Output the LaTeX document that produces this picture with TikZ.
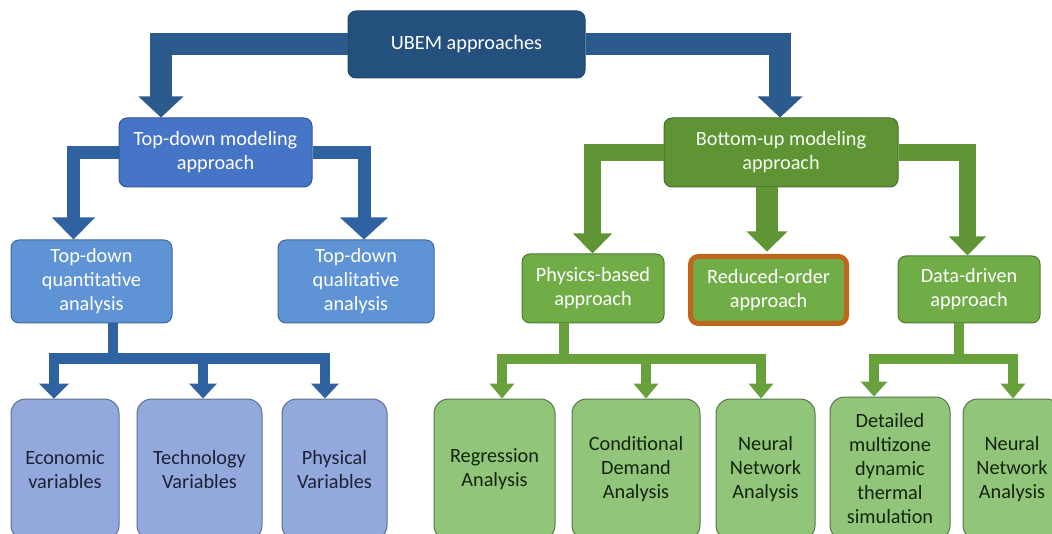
\documentclass[tikz,border=0pt]{standalone}
\usepackage{fontspec}
\setmainfont{Carlito}
\usetikzlibrary{calc}
\definecolor{ubemc}{HTML}{24507E}
\definecolor{arrA}{HTML}{2B5B8C}
\definecolor{tdmc}{HTML}{4674C6}
\definecolor{arrB}{HTML}{2F62A0}
\definecolor{tdqc}{HTML}{5E93D6}
\definecolor{varc}{HTML}{93A9DD}
\definecolor{bumc}{HTML}{5E9434}
\definecolor{arrC}{HTML}{5F9535}
\definecolor{grnc}{HTML}{70AD47}
\definecolor{arrD}{HTML}{68A03C}
\definecolor{lgrc}{HTML}{90C57A}
\definecolor{orgc}{HTML}{C0651C}
\definecolor{bluetxt}{HTML}{1B2233}
\definecolor{grntxt}{HTML}{16230E}
\newcommand\ahead[4]{\fill[#1] (#2) -- ++(-#3,-#4) -- ++(2*#3,0) -- cycle;}
\begin{document}
\begin{tikzpicture}[x=0.75pt,y=-0.75pt,
  font=\fontsize{15.2}{18}\selectfont,
  box/.style={rounded corners=6pt, line width=0.75pt, align=center, inner sep=0pt},
  lowbox/.style={box, rounded corners=11pt},
  sz/.style 2 args={minimum width=#1*0.75pt, minimum height=#2*0.75pt},
  band/.style={line join=miter, line cap=butt}]
\useasboundingbox (0,0) rectangle (1052,534);
\clip (0,0) rectangle (1052,534);
% nodes
\node[box, sz={237}{67}, fill=ubemc, draw=ubemc!85!black, text=white] (ubem) at (466.5,44.5) {UBEM approaches};
\node[box, sz={193}{69}, fill=tdmc, draw=tdmc!75!black, text=white] (tdm) at (215.5,152.5) {\raisebox{-2pt}{Top-down modeling}\\\raisebox{-2pt}{approach}};
\node[box, sz={161}{83}, fill=tdqc, draw=tdqc!70!black, text=white] (tdq) at (91.5,281.5) {Top-down\\quantitative\\analysis};
\node[box, sz={156}{83}, fill=tdqc, draw=tdqc!70!black, text=white] (tdl) at (356,281.5) {Top-down\\qualitative\\analysis};
\node[lowbox, sz={108}{141}, fill=varc, draw=varc!65!black, text=bluetxt] (eco) at (65,469.5) {Economic\\variables};
\node[lowbox, sz={125}{141}, fill=varc, draw=varc!65!black, text=bluetxt] (tech) at (199.5,469.5) {Technology\\Variables};
\node[lowbox, sz={105}{141}, fill=varc, draw=varc!65!black, text=bluetxt] (phys) at (334.5,469.5) {Physical\\Variables};
\node[box, sz={234}{69}, fill=bumc, draw=bumc!75!black, text=green!5!white] (bum) at (781,152.5) {\raisebox{-2pt}{Bottom-up modeling}\\\raisebox{-2pt}{approach}};
\node[box, sz={142}{69}, fill=grnc, draw=grnc!70!black, text=white] (phy) at (593,288.5) {Physics-based\\approach};
\node[box, sz={156}{67}, fill=grnc, draw=orgc, line width=3.75pt, text=white] (red) at (768.5,290) {Reduced-order\\approach};
\node[box, sz={142}{67}, fill=grnc, draw=grnc!70!black, text=white] (dat) at (969,289.5) {Data-driven\\approach};
\node[lowbox, sz={121}{141}, fill=lgrc, draw=lgrc!60!black, text=grntxt] (reg) at (494.5,469.5) {Regression\\Analysis};
\node[lowbox, sz={128}{141}, fill=lgrc, draw=lgrc!60!black, text=grntxt] (cond) at (636,469.5) {Conditional\\Demand\\Analysis};
\node[lowbox, sz={99}{141}, fill=lgrc, draw=lgrc!60!black, text=grntxt] (nn1) at (765.5,469.5) {Neural\\Network\\Analysis};
\node[lowbox, sz={120}{143}, fill=lgrc, draw=lgrc!60!black, text=grntxt] (det) at (890,468.5) {Detailed\\multizone\\dynamic\\thermal\\simulation};
\node[lowbox, sz={98}{141}, fill=lgrc, draw=lgrc!60!black, text=grntxt] (nn2) at (1012,469.5) {Neural\\Network\\Analysis};
% tip coordinates
\coordinate (t1) at (161,0 |- tdm.north);
\coordinate (t2) at (780,0 |- bum.north);
\coordinate (t3) at (73.5,0 |- tdq.north);
\coordinate (t4) at (364,0 |- tdl.north);
\coordinate (t5) at (592.5,0 |- phy.north);
\coordinate (t6) at ($(767,0 |- red.north)+(0,-2.5)$);
\coordinate (t7) at (967.5,0 |- dat.north);
\coordinate (q1) at (54,0 |- eco.north);
\coordinate (q2) at (203,0 |- tech.north);
\coordinate (q3) at (325,0 |- phys.north);
\coordinate (p1) at (502,0 |- reg.north);
\coordinate (p2) at (646,0 |- cond.north);
\coordinate (p3) at (761,0 |- nn1.north);
\coordinate (d1) at (874,0 |- det.north);
\coordinate (d2) at (1013,0 |- nn2.north);
% UBEM arrows
\draw[band, arrA, line width=22*0.75pt] (ubem.west) -| ($(t1)+(0,-20.5)$);
\ahead{arrA}{t1}{22.5}{21}
\draw[band, arrA, line width=22*0.75pt] (ubem.east) -| ($(t2)+(0,-20.5)$);
\ahead{arrA}{t2}{22.5}{21}
% top-down arrows
\draw[band, arrB, line width=13*0.75pt] (tdm.west) -| ($(t3)+(0,-21.5)$);
\ahead{arrB}{t3}{21.5}{22}
\draw[band, arrB, line width=13*0.75pt] (tdm.east) -| ($(t4)+(0,-21.5)$);
\ahead{arrB}{t4}{24}{22}
% bottom-up arrows
\draw[band, arrC, line width=17*0.75pt] (bum.west) -| ($(t5)+(0,-19.5)$);
\ahead{arrC}{t5}{19.5}{20}
\draw[band, arrC, line width=22*0.75pt] (767,0 |- bum.south) -- ($(t6)+(0,-19.5)$);
\ahead{arrC}{t6}{20.5}{20}
\draw[band, arrC, line width=17*0.75pt] (bum.east) -| ($(t7)+(0,-18.5)$);
\ahead{arrC}{t7}{18.5}{19}
% quantitative branch
\draw[band, arrB, line width=10.5*0.75pt] (113,0 |- tdq.south) -- (113,358.5);
\draw[band, arrB, line width=10.5*0.75pt] ($(q1)+(0,-14.5)$) -- (54,358.5) -- (325,358.5) -- ($(q3)+(0,-14.5)$);
\draw[band, arrB, line width=10.5*0.75pt] (203,358.5) -- ($(q2)+(0,-14.5)$);
\ahead{arrB}{q1}{15}{15}
\ahead{arrB}{q2}{14}{15}
\ahead{arrB}{q3}{14}{15}
% physics branch
\draw[band, arrD, line width=10*0.75pt] (564,0 |- phy.south) -- (564,359);
\draw[band, arrD, line width=10*0.75pt] ($(p1)+(0,-14.5)$) -- (502,359) -- (761,359) -- ($(p3)+(0,-14.5)$);
\draw[band, arrD, line width=10*0.75pt] (646,359) -- ($(p2)+(0,-14.5)$);
\ahead{arrD}{p1}{12.5}{15}
\ahead{arrD}{p2}{12.5}{15}
\ahead{arrD}{p3}{12.5}{15}
% data branch
\draw[band, arrD, line width=10*0.75pt] (959,0 |- dat.south) -- (959,359);
\draw[band, arrD, line width=10*0.75pt] ($(d1)+(0,-14.5)$) -- (874,359) -- (1013,359) -- ($(d2)+(0,-14.5)$);
\ahead{arrD}{d1}{13.5}{15}
\ahead{arrD}{d2}{12.5}{15}
\end{tikzpicture}
\end{document}
